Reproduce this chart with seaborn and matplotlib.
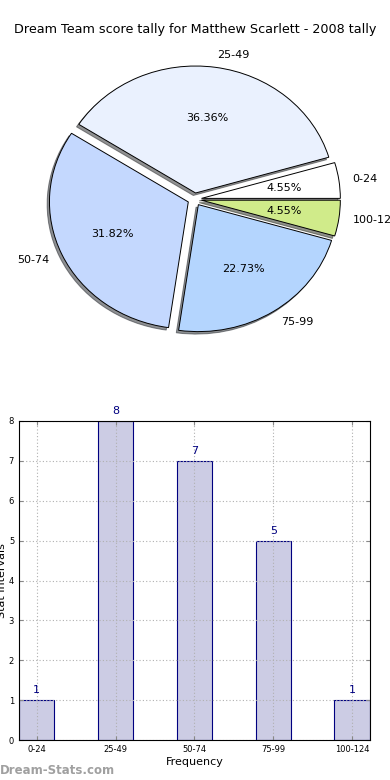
import matplotlib
matplotlib.use("Agg")
import matplotlib.pyplot as plt
import seaborn as sns
import pandas as pd

categories = ["0-24", "25-49", "50-74", "75-99", "100-124"]
counts = [1, 8, 7, 5, 1]
pie_colors = ["#ffffff", "#eaf1fe", "#c4d8fe", "#b4d5fe", "#d0eb8a"]
title = "Dream Team score tally for Matthew Scarlett - 2008 tally"

plt.rcParams['font.family'] = ['DejaVu Sans']
fig = plt.figure(figsize=(3.9, 7.8), dpi=100)
fig.text(0.5, 1 - 30/780, title, ha='center', va='center', fontsize=9.2)

# Pie
axp = fig.add_axes([0.054, 0.541, 0.89, 0.407])
wedges, texts, autotexts = axp.pie(
    counts, labels=categories, colors=pie_colors, explode=[0.05]*5,
    autopct='%1.2f%%', shadow={'ox': -0.012, 'oy': -0.014, 'shade': 0.85},
    startangle=0,
    wedgeprops=dict(edgecolor='black', linewidth=0.7),
    textprops=dict(fontsize=8))
axp.set_aspect('auto')
axp.set_xlim(-1.25, 1.25)
axp.set_ylim(-1.25, 1.25)

# Bars
axb = fig.add_axes([0.0487, 40/780, 0.9, 319/780])
df = pd.DataFrame({"cat": categories, "count": counts})
sns.barplot(data=df, x="cat", y="count", ax=axb, width=0.45,
            color="#ccccE4", edgecolor="navy", linewidth=0.8, saturation=1)
axb.set_xlim(-0.225, 4.225)
axb.set_ylim(0, 8)
axb.set_yticks(range(0, 9))
axb.grid(True, linestyle=(0, (1, 2)), color='#b0b0b0', linewidth=0.8)
axb.set_axisbelow(False)
axb.tick_params(labelsize=6, direction='in', top=True, right=True, length=3,
                color='#888888')
axb.set_xlabel("Frequency", fontsize=8, labelpad=2)
axb.set_ylabel("Stat Intervals", fontsize=8, labelpad=1)
for i, v in enumerate(counts):
    axb.text(i, v + 0.12, str(v), ha='center', va='bottom', color='navy', fontsize=8)
for s in axb.spines.values():
    s.set_linewidth(0.8)
    s.set_zorder(5)

fig.text(0.0, 1 - 770/780, "Dream-Stats.com", ha='left', va='center',
         fontsize=8.5, fontweight='bold', color='#a0a0a0')

fig.savefig("out.png", dpi=100)
